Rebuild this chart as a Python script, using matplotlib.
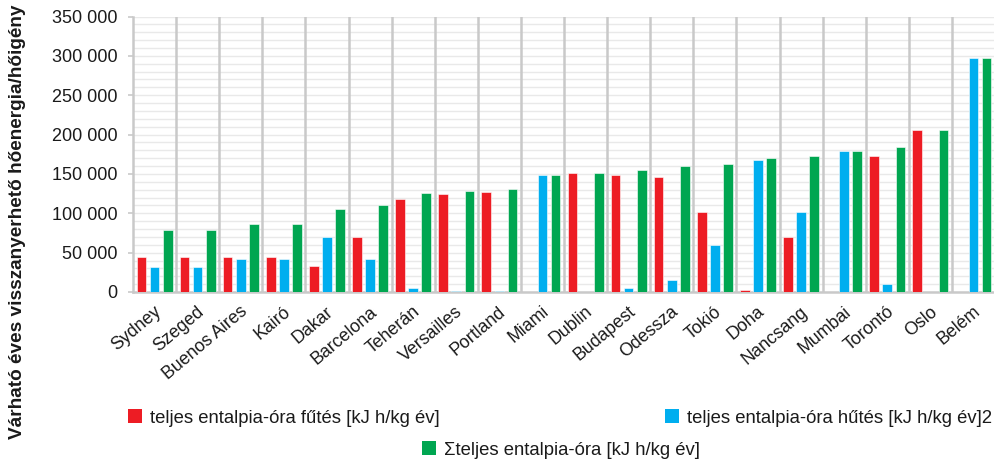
import matplotlib
matplotlib.use("Agg")
import matplotlib.pyplot as plt
from matplotlib.ticker import MultipleLocator, FuncFormatter
from matplotlib.patches import Patch
from matplotlib.transforms import ScaledTranslation
import numpy as np

plt.rcParams['font.family'] = ['Liberation Sans', 'DejaVu Sans']

cities = ["Sydney", "Szeged", "Buenos Aires", "Kairó", "Dakar", "Barcelona",
          "Teherán", "Versailles", "Portland", "Miami", "Dublin", "Budapest",
          "Odessza", "Tokió", "Doha", "Nancsang", "Mumbai", "Torontó", "Oslo", "Belém"]
heating = [44500, 44500, 44500, 44500, 33500, 70000, 118000, 125000, 127500, 0,
           151000, 149000, 146000, 101000, 2000, 70000, 0, 172500, 205500, 0]
cooling = [32000, 32000, 41500, 41500, 70500, 41500, 5500, 1800, 1800, 149000,
           0, 5000, 15000, 59500, 168000, 101500, 179000, 10000, 0, 297500]
total = [78500, 78500, 87000, 87000, 105000, 111000, 125500, 128000, 130500, 149000,
         151500, 155000, 160000, 162000, 170000, 173000, 179000, 184500, 205500, 297500]

labels = ["teljes entalpia-óra fűtés [kJ h/kg év]",
          "teljes entalpia-óra hűtés [kJ h/kg év]2",
          "Σteljes entalpia-óra [kJ h/kg év]"]
colors = ["#ED1C24", "#00AEEF", "#00A651"]
ylabel = "Várható éves visszanyerhető hőenergia/hőigény"

fig = plt.figure(figsize=(9.95, 4.63), dpi=100)
ax = fig.add_axes([133/995, 1 - 292/463, 1 - 133/995, (292 - 16.5)/463])

x = np.arange(len(cities))
w = 0.225
off = 0.305
for series, c, dx in zip([heating, cooling, total], colors, [-off, 0, off]):
    ax.bar(x + dx, series, width=w, color=c, edgecolor='white', linewidth=0.4, zorder=3)

ax.set_xlim(-0.5, len(cities) - 0.5)
ax.set_ylim(0, 350000)

ax.yaxis.set_major_locator(MultipleLocator(50000))
ax.yaxis.set_minor_locator(MultipleLocator(10000))
ax.yaxis.set_major_formatter(FuncFormatter(lambda v, p: f"{int(v):,}".replace(",", " ")))
ax.grid(axis='y', which='both', color='#e9e9e9', linewidth=1.0, zorder=0)
ax.set_axisbelow(True)

for b in np.arange(0.5, len(cities) - 0.5, 1):
    ax.axvline(b, color='#c9c9c9', linewidth=1.8, zorder=1)

for s in ['top', 'right']:
    ax.spines[s].set_visible(False)
ax.spines['left'].set_color('#c9c9c9')
ax.spines['left'].set_linewidth(1.8)
ax.spines['bottom'].set_color('#c9c9c9')
ax.spines['bottom'].set_linewidth(1.8)

ax.tick_params(axis='y', which='major', length=3.6, width=1.2, color='#c9c9c9',
               labelsize=13, labelcolor='#1a1a1a', pad=7.5)
ax.tick_params(axis='y', which='minor', length=0)
ax.tick_params(axis='x', length=0, pad=8)
ax.set_xticks(x)
ax.set_xticklabels(cities, rotation=40, ha='right', va='top', rotation_mode='anchor',
                   fontsize=12.8, color='#1a1a1a')
shift = ScaledTranslation(-1/100, 0, fig.dpi_scale_trans)
for t in ax.get_xticklabels():
    t.set_transform(t.get_transform() + shift)

fig.text(0.018, 0.52, ylabel, rotation=90, ha='center', va='center',
         fontsize=13.7, fontweight='bold', color='#1a1a1a')

legend_pos = [(128/995, 1 - 418/463), (665/995, 1 - 418/463), (422/995, 1 - 450/463)]
for lab, c, pos in zip(labels, colors, legend_pos):
    fig.legend(handles=[Patch(facecolor=c, edgecolor='none')], labels=[lab],
               loc='center left', bbox_to_anchor=pos, frameon=False,
               borderpad=0, borderaxespad=0, handlelength=0.76, handleheight=0.8,
               handletextpad=0.45, fontsize=13.3, labelcolor='#1a1a1a')

fig.savefig("out.png", dpi=100)
